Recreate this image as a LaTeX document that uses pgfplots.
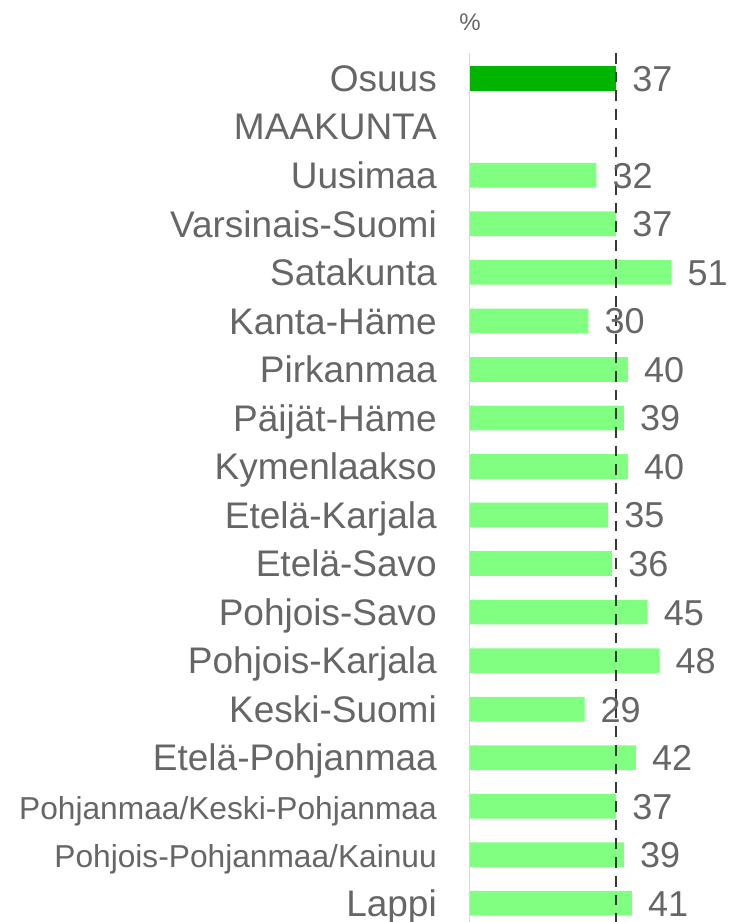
\documentclass[border=0pt]{standalone}
\usepackage{pgfplots}
\pgfplotsset{compat=1.18}
\usepackage{fontspec}
\setmainfont{Liberation Sans}
\definecolor{txt}{HTML}{666666}
\definecolor{dk}{HTML}{00B400}
\definecolor{lt}{HTML}{80FF80}
\definecolor{dashc}{HTML}{383838}
\definecolor{axl}{HTML}{D9D9D9}
\begin{document}
\begin{tikzpicture}
\begin{axis}[
  /pgf/number format/assume math mode=true,
  scale only axis,
  width=261pt, height=869pt,
  xmin=0, xmax=66.1,
  ymin=-0.52, ymax=17.385,
  y dir=reverse,
  axis x line=none,
  axis y line*=left,
  y axis line style={draw=axl, line width=1pt},
  ytick={0,...,17},
  yticklabels={Osuus, MAAKUNTA, Uusimaa, Varsinais-Suomi, Satakunta, Kanta-Häme, Pirkanmaa, Päijät-Häme, Kymenlaakso, Etelä-Karjala, Etelä-Savo, Pohjois-Savo, Pohjois-Karjala, Keski-Suomi, Etelä-Pohjanmaa, {\fontsize{31.7}{34}\selectfont Pohjanmaa/Keski-Pohjanmaa}, {\fontsize{31.7}{34}\selectfont Pohjois-Pohjanmaa/Kainuu}, Lappi},
  major tick length=0pt,
  ytick style={draw=none},
  yticklabel style={font=\fontsize{37}{40}\selectfont, text=txt, anchor=base east, inner sep=0pt, xshift=-33pt, yshift=-13.2pt},
  clip=false,
]
\addplot[xbar, bar width=24.7pt, bar shift=0pt, fill=dk, draw=none,
  nodes near coords,
  every node near coord/.append style={font=\fontsize{36}{40}\selectfont, text=txt, anchor=base west, inner sep=0pt, xshift=16pt, yshift=-12.9pt}]
  coordinates {(37,0)};
\addplot[xbar, bar width=24.7pt, bar shift=0pt, fill=lt, draw=none,
  nodes near coords,
  every node near coord/.append style={font=\fontsize{36}{40}\selectfont, text=txt, anchor=base west, inner sep=0pt, xshift=16pt, yshift=-12.9pt}]
  coordinates {(32,2) (37,3) (51,4) (30,5) (40,6) (39,7) (40,8) (35,9) (36,10) (45,11) (48,12) (29,13) (42,14) (37,15) (39,16) (41,17)};
\addplot[sharp plot, no marks, draw=dashc, line width=2.7pt, dash pattern=on 10.7pt off 8pt]
  coordinates {(37,-0.52) (37,17.385)};
\node[text=txt, anchor=base, inner sep=0pt, yshift=23pt] at (axis cs:0,-0.52) {\fontsize{24}{26}\selectfont\%};
\end{axis}
\pgfresetboundingbox
\useasboundingbox (-470pt,0pt) rectangle (261pt,922pt);
\end{tikzpicture}
\end{document}
